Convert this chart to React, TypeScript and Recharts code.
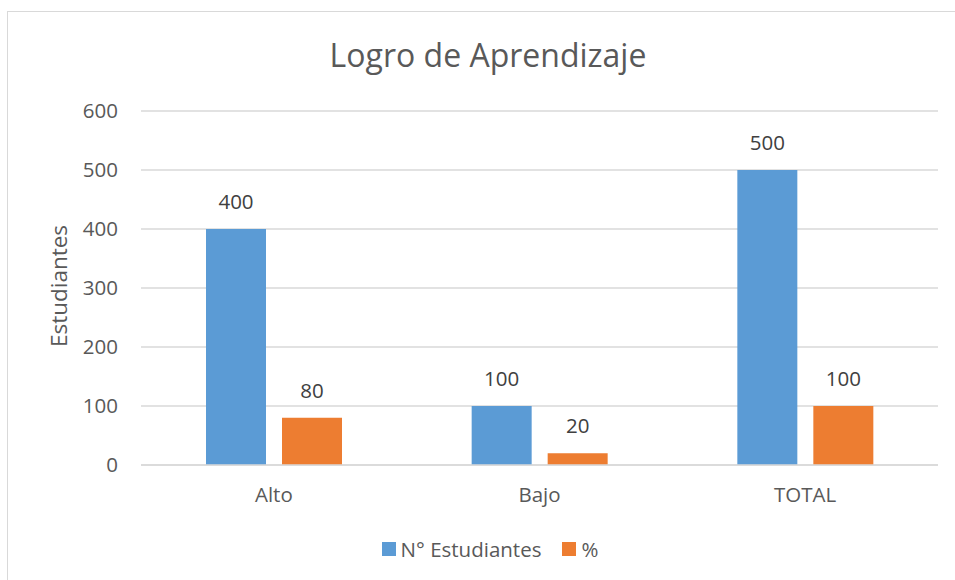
import React from "react";
import { BarChart, Bar, XAxis, YAxis, CartesianGrid, LabelList } from "recharts";

const categories = ["Alto", "Bajo", "TOTAL"];
const estudiantes = [400, 100, 500];
const porcentaje = [80, 20, 100];
const yTicks = [0, 100, 200, 300, 400, 500, 600];
const seriesNames = ["N° Estudiantes", "%"];
const seriesColors = ["#5B9BD5", "#ED7D31"];

const data = categories.map((c, i) => ({ name: c, est: estudiantes[i], pct: porcentaje[i] }));

const FONT = "'Open Sans', sans-serif";
const TXT = "#595959";

export default function App() {
  return (
    <div style={{ position: "absolute", left: 0, top: 0, width: 955, height: 580, overflow: "hidden", background: "#fff" }}>
      <div style={{ position: "absolute", left: 7, top: 11, width: 1000, height: 1000, border: "1.5px solid #d9d9d9" }} />
      <div style={{ position: "absolute", left: 0, top: 33, width: 976, textAlign: "center", fontFamily: FONT, fontSize: 32, color: TXT }}>
        Logro de Aprendizaje
      </div>
      <div style={{ position: "absolute", left: 0, top: 0 }}>
        <BarChart width={955} height={580} data={data} margin={{ top: 111, right: 17, bottom: 85, left: 0 }} barCategoryGap={65} barGap={16}>
          <CartesianGrid vertical={false} stroke="#d9d9d9" strokeWidth={1.3} />
          <XAxis dataKey="name" height={30} axisLine={{ stroke: "#d9d9d9", strokeWidth: 1.3 }} tickLine={false} tickSize={0} tickMargin={22}
            tick={{ fontFamily: FONT, fontSize: 20.5, fill: TXT }} />
          <YAxis width={141} domain={[0, 600]} ticks={yTicks} axisLine={false} tickLine={false} tickSize={0} tickMargin={23}
            tick={{ fontFamily: FONT, fontSize: 20.5, fill: TXT }}
            label={{
              content: (props: any) => {
                const vb = props.viewBox || {};
                const cx = 58;
                const cy = (vb.y || 111) + (vb.height || 354) / 2 - 2;
                return (
                  <text x={cx} y={cy} transform={`rotate(-90 ${cx} ${cy})`} textAnchor="middle" dominantBaseline="central"
                    style={{ fontFamily: FONT, fontSize: 22.5, fill: TXT }}>Estudiantes</text>
                );
              },
            }} />
          <Bar dataKey="est" name={seriesNames[0]} fill={seriesColors[0]} isAnimationActive={false}>
            <LabelList dataKey="est" position="top" offset={20} style={{ fontFamily: FONT, fontSize: 20.5, fill: "#404040" }} />
          </Bar>
          <Bar dataKey="pct" name={seriesNames[1]} fill={seriesColors[1]} isAnimationActive={false}>
            <LabelList dataKey="pct" position="top" offset={20} style={{ fontFamily: FONT, fontSize: 20.5, fill: "#404040" }} />
          </Bar>
        </BarChart>
      </div>
      <div style={{ position: "absolute", left: 0, top: 535, width: 980, display: "flex", justifyContent: "center", alignItems: "center", fontFamily: FONT, fontSize: 20.5, color: TXT }}>
        {seriesNames.map((n, i) => (
          <div key={n} style={{ display: "flex", alignItems: "center", marginRight: i === 0 ? 21 : 0 }}>
            <div style={{ width: 14, height: 14, background: seriesColors[i], marginRight: 5 }} />
            <span>{n}</span>
          </div>
        ))}
      </div>
    </div>
  );
}
